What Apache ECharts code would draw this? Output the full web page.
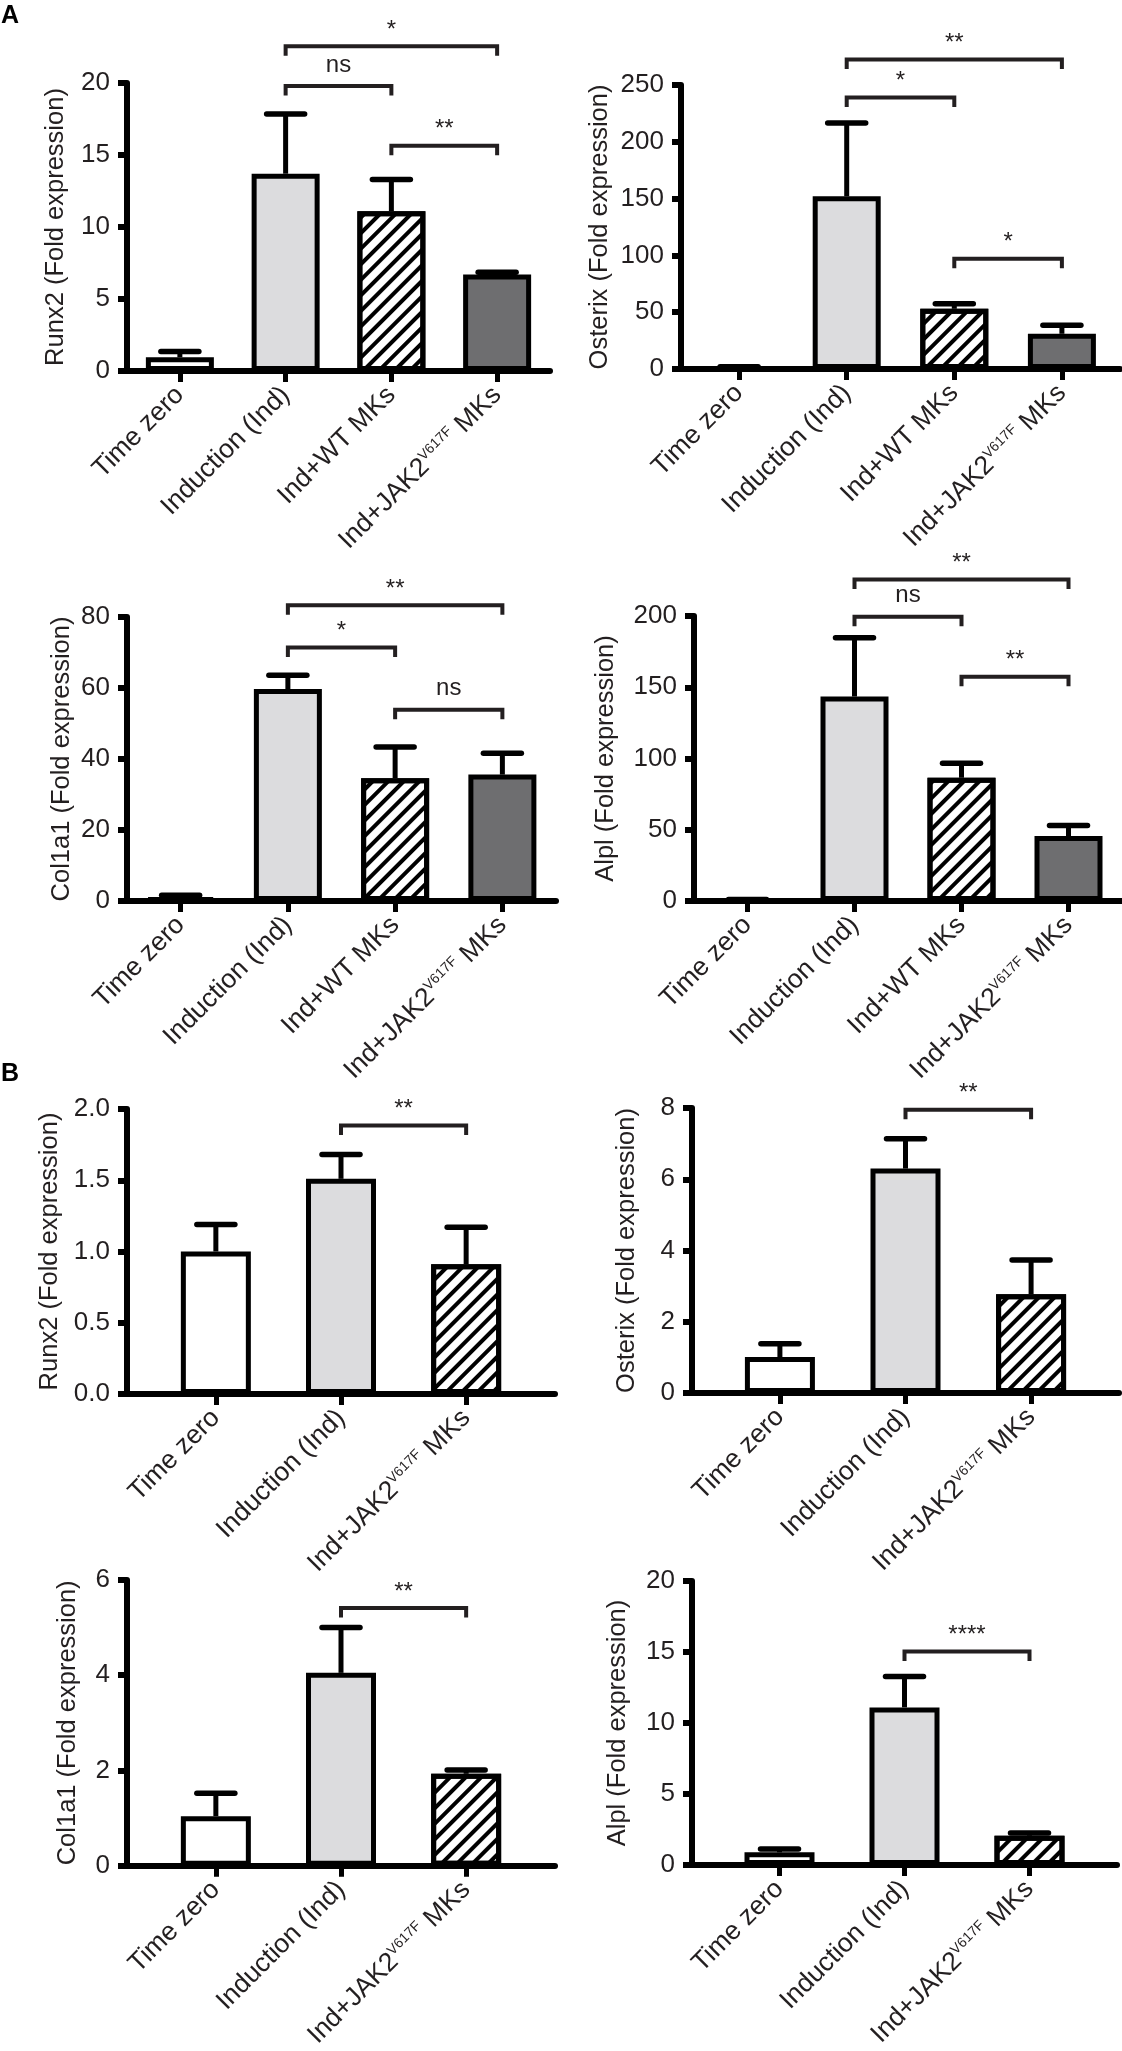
<!DOCTYPE html>
<html>
<head>
<meta charset="utf-8">
<script src="https://cdn.jsdelivr.net/npm/echarts@6/dist/echarts.min.js"></script>
<style>
  html, body { margin: 0; padding: 0; background: #fff; }
  #chart { width: 1122px; height: 2051px; }
</style>
</head>
<body>
<div id="chart"></div>
<script>
// group names, text between ^ ^ is a superscript
var groupsA = ['Time zero', 'Induction (Ind)', 'Ind+WT MKs', 'Ind+JAK2^V617F^ MKs'];
var groupsB = ['Time zero', 'Induction (Ind)', 'Ind+JAK2^V617F^ MKs'];

// means and SEM (upper error only)
var runx2A = [0.95, 13.7, 11.1, 6.7];
var runx2ASem = [0.4, 4.15, 2.2, 0.15];
var osterixA = [1, 152, 53, 31];
var osterixASem = [1, 64.5, 4.5, 7.5];
var col1a1A = [0.8, 59.7, 34.6, 35.6];
var col1a1ASem = [0.8, 3.9, 8.8, 6.0];
var alplA = [0.8, 143.5, 86.5, 45.6];
var alplASem = [0.3, 41.3, 10.1, 7.3];

var runx2B = [1.0, 1.51, 0.91];
var runx2BSem = [0.19, 0.17, 0.26];
var osterixB = [1.01, 6.3, 2.77];
var osterixBSem = [0.37, 0.84, 0.96];
var col1a1B = [1.04, 4.05, 1.93];
var col1a1BSem = [0.48, 0.95, 0.08];
var alplB = [0.89, 11.1, 2.06];
var alplBSem = [0.24, 2.17, 0.19];

// significance brackets: [from group, to group, level, label]
var runx2ASig = [[1, 3, 22.55, '*'], [1, 2, 19.8, 'ns'], [2, 3, 15.65, '**']];
var osterixASig = [[1, 3, 272.5, '**'], [1, 2, 239, '*'], [2, 3, 97, '*']];
var col1a1ASig = [[1, 3, 83.3, '**'], [1, 2, 71.4, '*'], [2, 3, 53.9, 'ns']];
var alplASig = [[1, 3, 225.7, '**'], [1, 2, 199.5, 'ns'], [2, 3, 157.4, '**']];
var runx2BSig = [[1, 2, 1.885, '**']];
var osterixBSig = [[1, 2, 7.95, '**']];
var col1a1BSig = [[1, 2, 5.41, '**']];
var alplBSig = [[1, 2, 15.03, '****']];

var FONT = 'Liberation Sans, Arial, Helvetica, sans-serif';
var INK = '#231f20';
var fillsA = ['white', 'light', 'hatch', 'dark'];
var fillsB = ['white', 'light', 'hatch'];

var panels = [
  { name: 'Runx2 (Fold expression)', groups: groupsA, mean: runx2A, sem: runx2ASem, sig: runx2ASig, max: 20, step: 5, fills: fillsA,
    left: 127, top: 83, width: 423, height: 288, pad: 0.5, bw: 68, gap: 58 },
  { name: 'Osterix (Fold expression)', groups: groupsA, mean: osterixA, sem: osterixASem, sig: osterixASig, max: 250, step: 50, fills: fillsA,
    left: 681, top: 85, width: 439, height: 284, pad: 0.54, bw: 68, gap: 68 },
  { name: 'Col1a1 (Fold expression)', groups: groupsA, mean: col1a1A, sem: col1a1ASem, sig: col1a1ASig, max: 80, step: 20, fills: fillsA,
    left: 127, top: 617, width: 429, height: 284, pad: 0.5, bw: 68, gap: 52 },
  { name: 'Alpl (Fold expression)', groups: groupsA, mean: alplA, sem: alplASem, sig: alplASig, max: 200, step: 50, fills: fillsA,
    left: 694, top: 616, width: 428, height: 285, pad: 0.5, bw: 68, gap: 75 },
  { name: 'Runx2 (Fold expression)', groups: groupsB, mean: runx2B, sem: runx2BSem, sig: runx2BSig, max: 2, step: 0.5, fills: fillsB, dec: 1,
    left: 127, top: 1109, width: 428, height: 285, pad: 0.71, bw: 70, gap: 64 },
  { name: 'Osterix (Fold expression)', groups: groupsB, mean: osterixB, sem: osterixBSem, sig: osterixBSig, max: 8, step: 2, fills: fillsB,
    left: 692, top: 1108, width: 427, height: 285, pad: 0.7, bw: 70, gap: 52 },
  { name: 'Col1a1 (Fold expression)', groups: groupsB, mean: col1a1B, sem: col1a1BSem, sig: col1a1BSig, max: 6, step: 2, fills: fillsB,
    left: 127, top: 1580, width: 428, height: 286, pad: 0.71, bw: 70, gap: 46 },
  { name: 'Alpl (Fold expression)', groups: groupsB, mean: alplB, sem: alplBSem, sig: alplBSig, max: 20, step: 5, fills: fillsB,
    left: 692, top: 1581, width: 425, height: 284, pad: 0.7, bw: 70, gap: 61 }
];

function fillStyle(kind) {
  if (kind === 'light') return { color: '#dcdcde' };
  if (kind === 'dark') return { color: '#6e6e70' };
  if (kind === 'hatch') {
    return { color: '#fff', decal: { symbol: 'rect', symbolSize: 1, color: '#000', dashArrayX: [1, 0], dashArrayY: [4, 7], rotation: -Math.PI / 4 } };
  }
  return { color: '#fff' };
}

function richLabel(s) {
  return s.split('^').map(function (part, n) {
    if (!part) return '';
    return n % 2 ? '{s|' + part + '}' : '{a|' + part + '}';
  }).join('');
}

var grids = [], xAxes = [], yAxes = [], series = [];

panels.forEach(function (p, k) {
  var n = p.groups.length;
  var idx = p.groups.map(function (g, i) { return i; });

  grids.push({ left: p.left, top: p.top, width: p.width, height: p.height });

  xAxes.push({
    type: 'value', gridIndex: k, min: -p.pad, max: n - 1 + p.pad,
    splitLine: { show: false },
    axisLine: { show: true, onZero: false, lineStyle: { color: '#000', width: 6 } },
    axisTick: { show: true, customValues: idx, length: 11, lineStyle: { color: '#000', width: 5 } },
    axisLabel: {
      customValues: idx, rotate: 45, margin: 20,
      formatter: function (v) { return richLabel(p.groups[Math.round(v)]); },
      rich: {
        a: { fontSize: 26.5, fontFamily: FONT, color: INK },
        s: { fontSize: 14, fontFamily: FONT, color: INK, verticalAlign: 'top' }
      }
    }
  });

  yAxes.push({
    type: 'value', gridIndex: k, min: 0, max: p.max, interval: p.step,
    name: p.name, nameLocation: 'middle', nameGap: p.gap,
    nameTextStyle: { fontSize: 25.5, fontFamily: FONT, color: INK },
    splitLine: { show: false },
    axisLine: { show: true, onZero: false, lineStyle: { color: '#000', width: 6 } },
    axisTick: { show: true, length: 9, lineStyle: { color: '#000', width: 6 } },
    axisLabel: {
      fontSize: 26, fontFamily: FONT, color: INK, margin: 17,
      formatter: function (v) { return p.dec ? v.toFixed(p.dec) : String(v); }
    }
  });

  series.push({
    type: 'bar', xAxisIndex: k, yAxisIndex: k, barWidth: p.bw,
    itemStyle: { borderColor: '#000', borderWidth: 5 },
    data: p.mean.map(function (v, i) {
      var st = fillStyle(p.fills[i]);
      st.borderColor = '#000';
      st.borderWidth = 5;
      return { value: [i, v], itemStyle: st };
    }),
    z: 3
  });

  // error bars (upper only)
  series.push({
    type: 'custom', xAxisIndex: k, yAxisIndex: k, clip: false, z: 4,
    data: p.mean.map(function (v, i) { return [i, v, v + p.sem[i]]; }),
    renderItem: function (params, api) {
      var x = api.value(0);
      var lo = api.coord([x, api.value(1)]);
      var hi = api.coord([x, api.value(2)]);
      var half = 19;
      return {
        type: 'group', children: [
          { type: 'line', shape: { x1: lo[0], y1: lo[1], x2: hi[0], y2: hi[1] }, style: { stroke: '#000', lineWidth: 5 } },
          { type: 'line', shape: { x1: hi[0] - half, y1: hi[1], x2: hi[0] + half, y2: hi[1] }, style: { stroke: '#000', lineWidth: 5.5, lineCap: 'round' } }
        ]
      };
    }
  });

  // significance brackets
  series.push({
    type: 'custom', xAxisIndex: k, yAxisIndex: k, clip: false, z: 5,
    data: p.sig.map(function (s) { return [s[0], s[1], s[2]]; }),
    renderItem: function (params, api) {
      var a = api.coord([api.value(0), api.value(2)]);
      var b = api.coord([api.value(1), api.value(2)]);
      var label = p.sig[params.dataIndex][3];
      var drop = 9.5;
      var off = label.indexOf('*') >= 0 ? 16 : 21;
      return {
        type: 'group', children: [
          { type: 'polyline', shape: { points: [[a[0], a[1] + drop], a, b, [b[0], b[1] + drop]] },
            style: { stroke: INK, lineWidth: 4, fill: null } },
          { type: 'text', x: (a[0] + b[0]) / 2, y: a[1] - off,
            style: { text: label, fontSize: 24, fontFamily: FONT, fill: INK, align: 'center', verticalAlign: 'middle' } }
        ]
      };
    }
  });
});

var chart = echarts.init(document.getElementById('chart'));
chart.setOption({
  backgroundColor: '#fff',
  animation: false,
  grid: grids,
  xAxis: xAxes,
  yAxis: yAxes,
  series: series,
  graphic: [
    { type: 'text', left: 1, top: 4, style: { text: 'A', fontSize: 25, fontWeight: 'bold', fontFamily: FONT, fill: '#000' } },
    { type: 'text', left: 1, top: 1062, style: { text: 'B', fontSize: 25, fontWeight: 'bold', fontFamily: FONT, fill: '#000' } }
  ]
});
</script>
</body>
</html>
